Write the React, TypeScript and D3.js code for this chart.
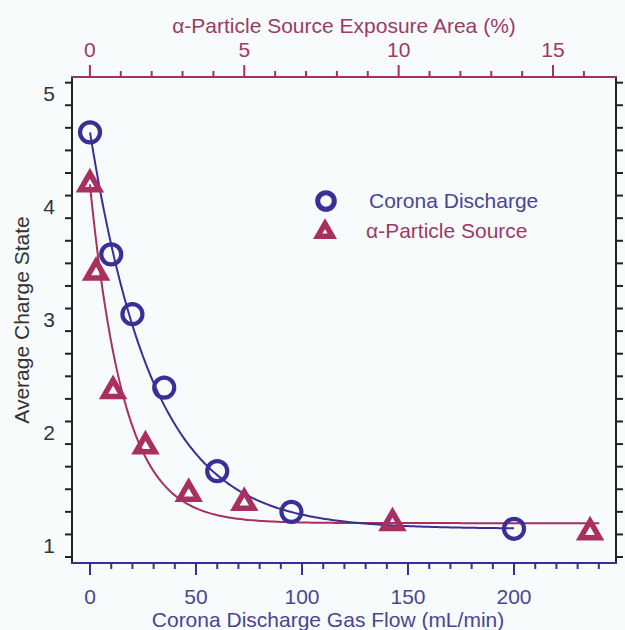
import React from "react";
import * as d3 from "d3";

// ---- data ----
const coronaFlow = [0, 10, 20, 35, 60, 95, 200];
const coronaCharge = [4.66, 3.58, 3.05, 2.4, 1.66, 1.3, 1.15];

const alphaArea = [0, 0.2, 0.75, 1.8, 3.2, 5.0, 9.8, 16.2];
const alphaCharge = [4.2, 3.42, 2.37, 1.88, 1.46, 1.38, 1.2, 1.12];

// exponential fit parameters (offset + amp * exp(-x / tau))
const coronaFit = { offset: 1.15, amp: 3.51, tau: 30, xMax: 200 };
const alphaFit = { offset: 1.2, amp: 3.0, tau: 1.1, xMax: 16.5 };

const bottomTicks = [0, 50, 100, 150, 200];
const topTicks = [0, 5, 10, 15];
const yTicks = [1, 2, 3, 4, 5];

const legendLabels = ["Corona Discharge", "\u03b1-Particle Source"];

const NAVY = "#3a2f96";
const NAVY_TEXT = "#4a4593";
const MAG = "#a82f5f";
const MAG_TEXT = "#9c3a64";
const FONT = "'Liberation Sans', Arial, sans-serif";
const FS = 21;

export default function App() {
  const W = 625, H = 630;
  const L = 72, R = 616, T = 77, B = 563;

  const xB = d3.scaleLinear().domain([-8.5, 248.1]).range([L, R]);
  const xT = d3.scaleLinear().domain([-0.58, 17.04]).range([L, R]);
  const y = d3.scaleLinear().domain([0.847, 5.15]).range([B, T]);

  const bMinor = d3.range(0, 241, 10);
  const tMinor = d3.range(0, 17, 1);
  const yMinorAll = d3.range(9, 52, 2).map((v) => v / 10);

  const fitPts = (f: { offset: number; amp: number; tau: number; xMax: number }) =>
    d3.range(0, 201).map((i) => {
      const x = (f.xMax * i) / 200;
      return [x, f.offset + f.amp * Math.exp(-x / f.tau)] as [number, number];
    });

  const coronaLine = d3
    .line<[number, number]>()
    .x((d) => xB(d[0]))
    .y((d) => y(d[1]))(fitPts(coronaFit));
  const alphaLine = d3
    .line<[number, number]>()
    .x((d) => xT(d[0]))
    .y((d) => y(d[1]))(fitPts(alphaFit));

  const triPath = (cx: number, cy: number, s: number) => {
    const h = (s * Math.sqrt(3)) / 2;
    return `M${cx},${cy - (2 * h) / 3}L${cx + s / 2},${cy + h / 3}L${cx - s / 2},${cy + h / 3}Z`;
  };

  return (
    <svg width={W} height={H} style={{ display: "block", position: "absolute", left: 0, top: 0 }} fontFamily={FONT}>
      <rect x={0} y={0} width={W} height={H} fill="#f8fbfc" />

      {/* top axis title and labels */}
      <text x={344} y={33} textAnchor="middle" fontSize={FS} fill={MAG_TEXT}>
        {"\u03b1-Particle Source Exposure Area (%)"}
      </text>
      {topTicks.map((t) => (
        <text key={"tt" + t} x={xT(t)} y={57} textAnchor="middle" fontSize={FS} fill={MAG_TEXT}>
          {t}
        </text>
      ))}
      {tMinor.map((t) => (
        <line
          key={"tm" + t}
          x1={xT(t)}
          x2={xT(t)}
          y1={T}
          y2={t % 5 === 0 ? T - 12 : T - 6}
          stroke={MAG}
          strokeWidth={2}
        />
      ))}

      {/* bottom axis */}
      {bMinor.map((t) => (
        <line
          key={"bm" + t}
          x1={xB(t)}
          x2={xB(t)}
          y1={B}
          y2={t % 50 === 0 ? B + 12 : B + 6}
          stroke={NAVY}
          strokeWidth={2}
        />
      ))}
      {bottomTicks.map((t) => (
        <text key={"bt" + t} x={xB(t)} y={604} textAnchor="middle" fontSize={FS} fill={NAVY_TEXT}>
          {t}
        </text>
      ))}
      <text x={328} y={627} textAnchor="middle" fontSize={FS} fill={NAVY_TEXT}>
        Corona Discharge Gas Flow (mL/min)
      </text>

      {/* left & right axis ticks */}
      {yMinorAll.map((v) => {
        const major = Math.abs(v - Math.round(v)) < 1e-6;
        return (
          <g key={"ym" + v}>
            <line x1={L} x2={major ? L - 12 : L - 7} y1={y(v)} y2={y(v)} stroke="#222" strokeWidth={2} />
            <line x1={R} x2={major ? R + 12 : R + 7} y1={y(v)} y2={y(v)} stroke="#222" strokeWidth={2} />
          </g>
        );
      })}
      {yTicks.map((t) => (
        <text key={"yt" + t} x={55} y={y(t) + 7.5} textAnchor="end" fontSize={FS} fill="#333">
          {t}
        </text>
      ))}
      <text
        transform={`translate(29,${(T + B) / 2}) rotate(-90)`}
        textAnchor="middle"
        fontSize={FS}
        fill="#333"
      >
        Average Charge State
      </text>

      {/* frame */}
      <line x1={L} x2={L} y1={T} y2={B} stroke="#222" strokeWidth={2} />
      <line x1={R} x2={R} y1={T} y2={B} stroke="#222" strokeWidth={2} />
      <line x1={L - 1} x2={R + 1} y1={T} y2={T} stroke={MAG} strokeWidth={2} />
      <line x1={L - 1} x2={R + 1} y1={B} y2={B} stroke={NAVY} strokeWidth={2} />

      {/* fit curves */}
      <path d={alphaLine || ""} fill="none" stroke={MAG} strokeWidth={2} />
      <path d={coronaLine || ""} fill="none" stroke={NAVY} strokeWidth={2} />

      {/* markers */}
      {alphaArea.map((a, i) => (
        <path
          key={"a" + i}
          d={triPath(xT(a), y(alphaCharge[i]), 19)}
          fill="none"
          stroke={MAG}
          strokeWidth={5.5}
          strokeLinejoin="miter"
        />
      ))}
      {coronaFlow.map((f, i) => (
        <circle key={"c" + i} cx={xB(f)} cy={y(coronaCharge[i])} r={10} fill="none" stroke={NAVY} strokeWidth={4.2} />
      ))}

      {/* legend */}
      <circle cx={326} cy={201} r={8.3} fill="none" stroke={NAVY} strokeWidth={5} />
      <text x={369} y={208} fontSize={FS} fill={NAVY_TEXT}>
        {legendLabels[0]}
      </text>
      <path d={triPath(325, 232, 14.5)} fill="none" stroke={MAG} strokeWidth={5.5} strokeLinejoin="miter" />
      <text x={366} y={238} fontSize={FS} fill={MAG_TEXT}>
        {legendLabels[1]}
      </text>
    </svg>
  );
}
